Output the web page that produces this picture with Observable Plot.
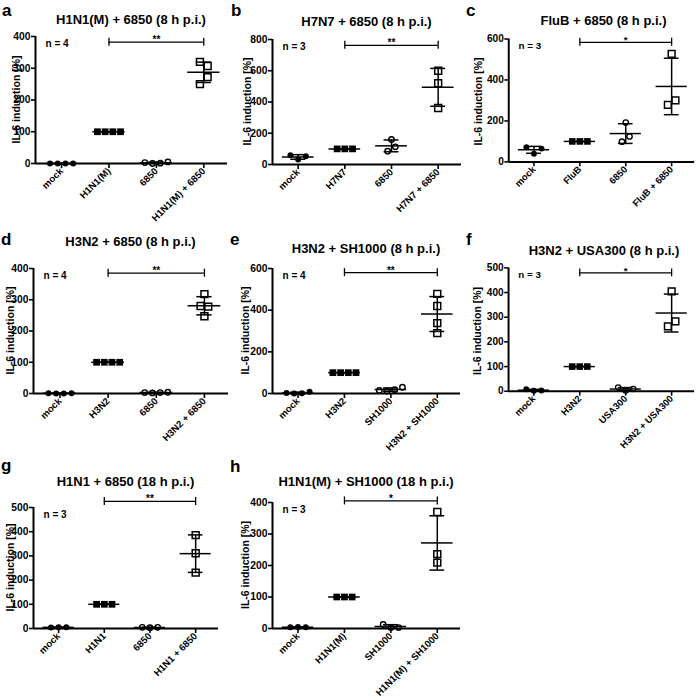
<!DOCTYPE html>
<html><head><meta charset="utf-8">
<script src="https://cdn.jsdelivr.net/npm/d3@7"></script>
<script src="https://cdn.jsdelivr.net/npm/@observablehq/plot@0.6"></script>
<style>
body{margin:0;background:#fff;}
#root{position:relative;width:700px;height:700px;overflow:hidden;background:#fff;}
.panel{position:absolute;}
.panel svg{overflow:visible;background:transparent !important;}
.panel svg text{font-family:"Liberation Sans", Arial, sans-serif !important;font-weight:bold !important;fill:#000;}
.panel svg g[aria-label^="y-axis"] text{font-size:10.3px !important;}
.panel svg g[aria-label^="x-axis"] text{font-size:9.6px !important;}
.panel g[aria-label^="y-axis"] line, .panel g[aria-label^="y-axis"] path,
.panel g[aria-label^="x-axis"] line, .panel g[aria-label^="x-axis"] path {stroke-width:1.6px;stroke:#000;}
#overlay{position:absolute;left:0;top:0;}
#overlay text{font-family:"Liberation Sans", Arial, sans-serif;font-weight:bold;fill:#000;}
</style></head><body><div id="root"></div>
<script>
// ---------- data ----------
const panelLetters = ["a","b","c","d","e","f","g","h"];
const panelTitles = ["H1N1(M) + 6850 (8 h p.i.)","H7N7 + 6850 (8 h p.i.)","FluB + 6850 (8 h p.i.)",
  "H3N2 + 6850 (8 h p.i.)","H3N2 + SH1000 (8 h p.i.)","H3N2 + USA300 (8 h p.i.)",
  "H1N1 + 6850 (18 h p.i.)","H1N1(M) + SH1000 (18 h p.i.)"];
const panelN = [4,3,3,4,4,3,3,3];
const panelSignif = ["**","**","*","**","**","*","**","*"];
const virusNames = ["H1N1(M)","H7N7","FluB","H3N2","H3N2","H3N2","H1N1","H1N1(M)"];
const bacteriaNames = ["6850","6850","6850","6850","SH1000","USA300","6850","SH1000"];
const yMax = [400,800,600,400,600,500,500,400];
const yTickStep = [100,200,200,100,200,100,100,100];
const bracketLevel = [382,763,584,385,580,480,525,405];
const mockValues = [[0,0,0,0],[60,32,53],[72,40,65],[1,0,0,1],[2,0,1,8],[8,2,3],[4,5,5],[4,5,4]];
const virusValues = [[100,100,100,100],[100,100,100],[100,100,100],[100,100,100,100],[100,100,100,100],[100,100,100],[100,100,100],[100,100,100]];
const bacteriaValues = [[3,0,1,5],[160,85,113],[192,99,124],[3,2,3,4],[15,12,18,30],[15,3,9],[5,3,5],[13,3,3]];
const comboValues = [[320,307,250,272],[600,520,362],[527,278,300],[318,280,278,247],[478,420,338,290],[405,263,283],[386,311,231],[370,236,209]];
const yLabel = "IL-6 induction [%]";

// ---------- layout ----------
const frames = [
  {L:35,R:227,T:36,B:163},{L:272,R:461,T:39,B:164},{L:509,R:698,T:39,B:164},
  {L:33,R:228,T:268,B:393},{L:272,R:460,T:268,B:393},{L:509,R:699,T:268,B:394},
  {L:33,R:218,T:507,B:628},{L:272,R:460,T:502,B:628}];
const letterPos = [{x:2,y:16},{x:231,y:16},{x:466,y:16},{x:1,y:245},{x:230,y:245},{x:466,y:245},{x:1,y:471},{x:230,y:472}];
const titleBase = [24,26,25,246,253,255,486,486];
const yLabelOffset = [19,25,31,23,27,32,23,27];

const FONT = '"Liberation Sans", Arial, sans-serif';
const root = document.getElementById("root");

function drawPanel(p) {
  const f = frames[p];
  const mL = 45, mR = 6, mT = 30, mB = 100;
  const fw = f.R - f.L, fh = f.B - f.T;
  const xDom = [-0.55, 3.5];
  const pxPerX = fw / (xDom[1] - xDom[0]);
  const unitsPerPx = yMax[p] / fh;
  const groups = [mockValues[p], virusValues[p], bacteriaValues[p], comboValues[p]];
  const names = ["mock", virusNames[p], bacteriaNames[p], virusNames[p] + " + " + bacteriaNames[p]];
  const points = [], stats = [];
  groups.forEach((vals, g) => {
    const order = vals.map((v, i) => i).sort((a, b) => vals[a] - vals[b]);
    const rows = [];
    let cur = null;
    for (const i of order) {
      if (!cur || vals[i] - cur.start > 7.5 * unitsPerPx) { cur = {start: vals[i], items: []}; rows.push(cur); }
      cur.items.push(i);
    }
    for (const row of rows) {
      row.items.sort((a, b) => a - b);
      const k = row.items.length;
      row.items.forEach((i, j) => points.push({g, v: vals[i], x: g + (j - (k - 1) / 2) * 7.7 / pxPerX}));
    }
    const m = d3.mean(vals), s = d3.deviation(vals) || 0;
    stats.push({g, mean: m, lo: m - s, hi: m + s});
  });
  const byG = g => points.filter(d => d.g === g);
  const sig = [{t: panelSignif[p], y: bracketLevel[p]}];
  const chart = Plot.plot({
    width: fw + mL + mR, height: fh + mT + mB,
    marginLeft: mL, marginRight: mR, marginTop: mT, marginBottom: mB,
    style: {fontFamily: FONT, fontSize: "10.3px", fontWeight: "bold", color: "#000", background: "transparent", overflow: "visible"},
    x: {domain: xDom, ticks: [0,1,2,3], tickFormat: i => names[i], tickRotate: -45, tickSize: 5, tickPadding: 1, label: null},
    y: {domain: [0, yMax[p]], ticks: d3.range(0, yMax[p] + 1, yTickStep[p]), tickSize: 4, tickPadding: 1, label: null},
    marks: [
      Plot.ruleY([0], {stroke: "#000", strokeWidth: 2}),
      Plot.ruleX([xDom[0]], {stroke: "#000", strokeWidth: 2}),
      Plot.ruleY(stats, {y: "mean", x1: d => d.g - 0.34, x2: d => d.g + 0.34, stroke: "#000", strokeWidth: 1.5}),
      Plot.ruleX(stats, {x: "g", y1: "lo", y2: "hi", stroke: "#000", strokeWidth: 1.5}),
      Plot.ruleY(stats, {y: "lo", x1: d => d.g - 0.16, x2: d => d.g + 0.16, stroke: "#000", strokeWidth: 1.5}),
      Plot.ruleY(stats, {y: "hi", x1: d => d.g - 0.16, x2: d => d.g + 0.16, stroke: "#000", strokeWidth: 1.5}),
      Plot.dot(byG(0), {x: "x", y: "v", r: 3, fill: "#000", stroke: "none"}),
      Plot.dot(byG(1), {x: "x", y: "v", r: 3.8, symbol: "square", fill: "#000", stroke: "none"}),
      Plot.dot(byG(2), {x: "x", y: "v", r: 2.7, fill: "none", stroke: "#000", strokeWidth: 1.4}),
      Plot.dot(byG(3), {x: "x", y: "v", r: 3.9, symbol: "square", fill: "none", stroke: "#000", strokeWidth: 1.5}),
      Plot.ruleY(sig, {y: "y", x1: 1, x2: 3, stroke: "#000", strokeWidth: 1.3}),
      Plot.ruleX([1, 3], {x: d => d, y1: () => bracketLevel[p], y2: () => bracketLevel[p], insetTop: -4, insetBottom: -4, stroke: "#000", strokeWidth: 1.3}),
      Plot.text(sig, {x: 2, y: "y", text: "t", lineAnchor: "bottom", dy: 1, fontSize: 10, fontWeight: "bold"}),
      Plot.text([`n = ${panelN[p]}`], {frameAnchor: "top-left", dx: 10, dy: 3, textAnchor: "start", lineAnchor: "top", fontSize: 10, fontWeight: "bold"})
    ]
  });
  const div = document.createElement("div");
  div.className = "panel";
  div.style.left = (f.L - mL) + "px";
  div.style.top = (f.T - mT) + "px";
  div.appendChild(chart);
  root.appendChild(div);
}

for (let p = 0; p < 8; p++) drawPanel(p);

// overlay text: letters, titles, y labels
const ov = d3.select(root).append("svg").attr("id", "overlay").attr("width", 700).attr("height", 700);
for (let p = 0; p < 8; p++) {
  const f = frames[p];
  ov.append("text").attr("x", letterPos[p].x).attr("y", letterPos[p].y).attr("font-size", 17).text(panelLetters[p]);
  ov.append("text").attr("x", (f.L + f.R) / 2).attr("y", titleBase[p]).attr("text-anchor", "middle").attr("font-size", 13).text(panelTitles[p]);
  const cx = f.L - yLabelOffset[p], cy = (f.T + f.B) / 2;
  ov.append("text").attr("transform", `translate(${cx},${cy}) rotate(-90)`).attr("text-anchor", "middle")
    .attr("dominant-baseline", "central").attr("font-size", 10.5).text(yLabel);
}
</script></body></html>
